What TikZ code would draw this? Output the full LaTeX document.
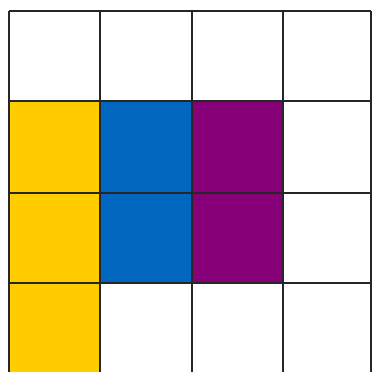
\documentclass[tikz,border=0pt]{standalone}
\definecolor{cyellow}{RGB}{255,204,0}
\definecolor{cblue}{RGB}{0,102,190}
\definecolor{cpurple}{RGB}{136,0,120}
\begin{document}
\begin{tikzpicture}[x=1pt,y=-1pt,
  cell/.style={draw=black!85,line width=1.6pt},
  gridline/.style={draw=black!85,line width=1.6pt}]
\useasboundingbox (0,0) rectangle (375,372);
% coloured cells
\fill[cyellow] (9,101) rectangle (100,372);
\fill[cblue] (100,101) rectangle (192,283);
\fill[cpurple] (192,101) rectangle (283,283);
% grid lines
\draw[gridline] (9,11) -- (371,11);
\draw[gridline] (9,101) -- (371,101);
\draw[gridline] (9,193) -- (371,193);
\draw[gridline] (9,283) -- (371,283);
\draw[gridline] (9,11) -- (9,372);
\draw[gridline] (100,11) -- (100,372);
\draw[gridline] (192,11) -- (192,372);
\draw[gridline] (283,11) -- (283,372);
\draw[gridline] (371,11) -- (371,372);
\end{tikzpicture}
\end{document}
